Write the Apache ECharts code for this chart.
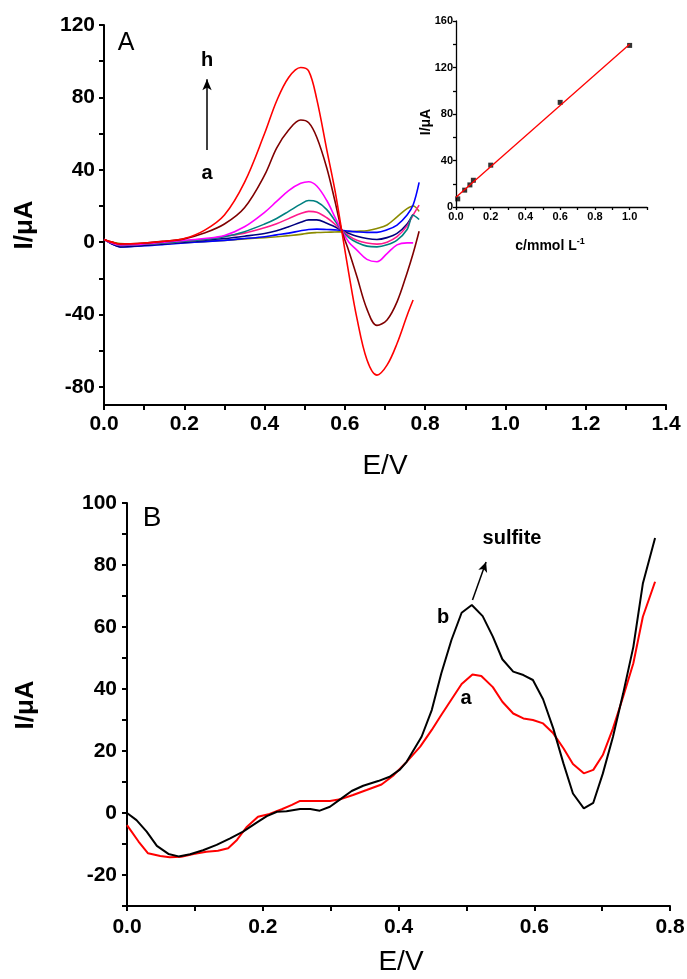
<!DOCTYPE html>
<html>
<head>
<meta charset="utf-8">
<script src="https://cdn.jsdelivr.net/npm/echarts@6/dist/echarts.min.js"></script>
<style>
html,body{margin:0;padding:0;background:#fff;}
#main{width:687px;height:979px;}
</style>
</head>
<body>
<div id="main"></div>
<script>
// ---- panel A : CVs a..h, one potential grid shared by all curves
var potA = [0, 0.02, 0.04, 0.1, 0.15, 0.2, 0.25, 0.3, 0.35, 0.4, 0.43, 0.46, 0.49, 0.51, 0.53, 0.555, 0.575, 0.592, 0.61, 0.63, 0.655, 0.68, 0.705, 0.73, 0.755, 0.77, 0.785];
var curA_a = [1.5, 0, -0.8, -1, -0.8, -0.3, 0.3, 1, 1.8, 2.5, 3, 3.6, 4.3, 5, 5.3, 5.5, 5.6, 5.7, 5.8, 6, 6.3, 7.5, 9.5, 14, 18.5, 20, 17];
var curA_b = [1.5, -1, -2.6, -2, -1.3, -0.5, 0.3, 1, 2, 3, 4, 5, 6.3, 7, 7.2, 7, 6.8, 6.6, 6.1, 5.7, 5.4, 5.4, 6.8, 9.4, 15, 20.5, 33];
var curA_c = [1.5, -1, -2.6, -1.8, -1, 0, 1, 2, 3.3, 4.8, 6.3, 8.5, 11, 12.3, 12.3, 10.5, 8.5, 6.6, 4.8, 3.2, 2, 1.5, 2.5, 4.8, 10, 15.5, null];
var curA_d = [1.5, -0.5, -1.8, -1.2, -0.5, 0.5, 1.5, 3.2, 5, 8, 10.2, 13, 15.8, 17, 16.5, 13.5, 10, 6.6, 3.5, 1, -0.5, -1.1, 0, 3, 9, 15, 20.5];
var curA_e = [1.5, -0.5, -1.8, -1.2, -0.5, 0.5, 1.5, 3, 5.8, 10, 13.1, 17, 21, 23, 22.3, 18, 12, 6.6, 2.5, -0.2, -2.2, -2.6, -1.5, 1.1, 7, 14.9, 12.5];
var curA_f = [1.5, -0.5, -1.5, -1, 0, 1, 2, 3.7, 8.5, 16.5, 22.5, 28.5, 32.5, 33.4, 31, 23, 14, 6.6, 0, -4.4, -9.5, -10.8, -6.3, -1.5, -0.4, -0.4, null];
var curA_g = [1.5, 0, -1, -0.5, 0.5, 1.8, 5, 10, 19, 37, 52, 62, 67.5, 66, 58, 41, 23, 6.6, -5, -19, -37, -46, -43, -33, -17, -6.3, 6];
var curA_h = [1.5, 0, -1, -0.5, 0.5, 2, 6.5, 15, 33, 60, 78, 91, 96.5, 94.5, 79, 51, 29, 6.6, -17.5, -42, -65, -73.5, -68, -56, -40.5, -32, null];
var namesA = ['a', 'b', 'c', 'd', 'e', 'f', 'g', 'h'];
var colorsA = ['#8b8b00', '#0000ff', '#000080', '#ff1a8c', '#008080', '#ff00ff', '#800000', '#ff0000'];

// ---- inset : calibration
var concIn = [0.01, 0.05, 0.08, 0.1, 0.2, 0.6, 1.0];
var curIn = [7, 14.5, 19, 23, 36, 90, 139];
var fitC = [0, 1.0];
var fitI = [8.3, 140];

// ---- panel B : a (red) and b (black, with sulfite)
var potBb = [0, 0.014, 0.029, 0.044, 0.061, 0.076, 0.093, 0.112, 0.132, 0.152, 0.171, 0.191, 0.206, 0.221, 0.235, 0.255, 0.27, 0.284, 0.299, 0.314, 0.331, 0.348, 0.37, 0.387, 0.402, 0.412, 0.434, 0.449, 0.463, 0.478, 0.493, 0.508, 0.524, 0.539, 0.553, 0.569, 0.584, 0.598, 0.613, 0.628, 0.643, 0.657, 0.673, 0.687, 0.701, 0.716, 0.731, 0.746, 0.76, 0.778];
var curBb = [0, -2.3, -6, -10.6, -13.2, -14, -13.3, -12, -10.3, -8.2, -6, -3.1, -1, 0.4, 0.6, 1.3, 1.3, 0.75, 2, 4.4, 7.1, 8.8, 10.3, 11.7, 14, 16.5, 24.6, 33.2, 45, 55.8, 64.6, 67.1, 63.5, 56.9, 49.6, 45.6, 44.5, 42.9, 36.7, 27.3, 16, 6.3, 1.5, 3.3, 12.7, 24.6, 38.6, 53.6, 74, 88.7];
var potBa = [0, 0.017, 0.031, 0.049, 0.063, 0.08, 0.098, 0.117, 0.134, 0.149, 0.162, 0.176, 0.193, 0.21, 0.228, 0.243, 0.255, 0.274, 0.299, 0.314, 0.333, 0.353, 0.375, 0.392, 0.412, 0.432, 0.449, 0.463, 0.478, 0.493, 0.509, 0.522, 0.539, 0.553, 0.569, 0.584, 0.598, 0.613, 0.628, 0.643, 0.657, 0.673, 0.687, 0.701, 0.716, 0.731, 0.746, 0.76, 0.778];
var curBa = [-3.9, -9.2, -13, -13.9, -14.3, -14.1, -13.2, -12.5, -12.2, -11.4, -8.7, -4.6, -1.2, -0.3, 1.2, 2.6, 3.9, 3.9, 3.9, 4.4, 5.8, 7.4, 9.2, 12, 16.5, 21.4, 26.8, 31.6, 36.6, 41.6, 44.7, 44.2, 40.6, 35.9, 32.1, 30.5, 30, 28.9, 25.7, 20.9, 15.8, 12.8, 13.9, 18.7, 27.3, 37.5, 48.3, 63.3, 74.6];

// tick / label positions
var xLabA = [0, 0.2, 0.4, 0.6, 0.8, 1.0, 1.2, 1.4];
var xTickA = [0, 0.1, 0.2, 0.3, 0.4, 0.5, 0.6, 0.7, 0.8, 0.9, 1.0, 1.1, 1.2, 1.3, 1.4];
var yLabA = [-80, -40, 0, 40, 80, 120];
var yTickA = [-80, -60, -40, -20, 0, 20, 40, 60, 80, 100, 120];
var xLabIn = [0, 0.2, 0.4, 0.6, 0.8, 1.0];
var xTickIn = [0, 0.1, 0.2, 0.3, 0.4, 0.5, 0.6, 0.7, 0.8, 0.9, 1.0, 1.1];
var yLabIn = [0, 40, 80, 120, 160];
var yTickIn = [0, 20, 40, 60, 80, 100, 120, 140, 160];
var xLabB = [0, 0.2, 0.4, 0.6, 0.8];
var xTickB = [0, 0.1, 0.2, 0.3, 0.4, 0.5, 0.6, 0.7, 0.8];
var yLabB = [-20, 0, 20, 40, 60, 80, 100];
var yTickB = [-30, -20, -10, 0, 10, 20, 30, 40, 50, 60, 70, 80, 90, 100];

var FONT = 'Liberation Sans, Arial, sans-serif';

function zip(xs, ys) {
    var out = [];
    for (var i = 0; i < xs.length; i++) {
        if (ys[i] !== null) out.push([xs[i], ys[i]]);
    }
    return out;
}

function mkAxis(grid, min, max, labels, ticks, size, margin, tickLen, lw, fmt) {
    return {
        type: 'value', gridIndex: grid, min: min, max: max,
        axisLine: {show: true, onZero: false, lineStyle: {color: '#000', width: lw}},
        axisTick: {show: true, inside: false, length: tickLen, customValues: ticks,
            lineStyle: {color: '#000', width: lw}},
        axisLabel: {show: true, margin: margin, color: '#000', fontSize: size, fontWeight: 'bold',
            fontFamily: FONT, customValues: labels, formatter: fmt},
        splitLine: {show: false}
    };
}
var f1 = function (v) { return v.toFixed(1); };
var f0 = function (v) { return String(Math.round(v)); };

var chart = echarts.init(document.getElementById('main'), null, {renderer: 'canvas'});

var series = [];
for (var k = 0; k < namesA.length; k++) {
    var vals = [curA_a, curA_b, curA_c, curA_d, curA_e, curA_f, curA_g, curA_h][k];
    series.push({
        name: namesA[k], type: 'line', xAxisIndex: 0, yAxisIndex: 0,
        data: zip(potA, vals), showSymbol: false, smooth: 0.35,
        lineStyle: {color: colorsA[k], width: 1.6}, itemStyle: {color: colorsA[k]},
        animation: false
    });
}
// arrow a -> h
series[0].markLine = {
    silent: true, symbol: ['none', 'arrow'], symbolSize: [7, 11], label: {show: false},
    lineStyle: {color: '#000', width: 1.5, type: 'solid'},
    data: [[{coord: [0.2566, 50.9]}, {coord: [0.2566, 90]}]]
};

series.push({
    type: 'line', xAxisIndex: 1, yAxisIndex: 1, data: zip(fitC, fitI), showSymbol: false,
    lineStyle: {color: '#ff0000', width: 1.3}, animation: false
});
series.push({
    type: 'scatter', xAxisIndex: 1, yAxisIndex: 1, data: zip(concIn, curIn),
    symbol: 'rect', symbolSize: 5, itemStyle: {color: '#000'}, animation: false
});

series.push({
    name: 'a', type: 'line', xAxisIndex: 2, yAxisIndex: 2, data: zip(potBa, curBa), showSymbol: false,
    lineStyle: {color: '#ff0000', width: 2}, animation: false
});
series.push({
    name: 'b', type: 'line', xAxisIndex: 2, yAxisIndex: 2, data: zip(potBb, curBb), showSymbol: false,
    lineStyle: {color: '#000', width: 2}, animation: false,
    markLine: {
        silent: true, symbol: ['none', 'arrow'], symbolSize: [7, 10], label: {show: false},
        lineStyle: {color: '#000', width: 1.5, type: 'solid'},
        data: [[{coord: [0.509, 68.7]}, {coord: [0.529, 81]}]]
    }
});

function txt(x, y, s, font, rot) {
    return {
        type: 'text', x: x, y: y, rotation: rot || 0, z: 100,
        style: {text: s, font: font, fill: '#000', align: 'center', verticalAlign: 'middle'}
    };
}

var option = {
    backgroundColor: '#fff',
    animation: false,
    grid: [
        {left: 104, top: 25, width: 562, height: 380, outerBoundsMode: 'none'},
        {left: 456, top: 21, width: 191, height: 186, outerBoundsMode: 'none'},
        {left: 127, top: 503, width: 543, height: 403, outerBoundsMode: 'none'}
    ],
    xAxis: [
        mkAxis(0, 0, 1.4, xLabA, xTickA, 21, 9, 5, 2, f1),
        mkAxis(1, 0, 1.1, xLabIn, xTickIn, 11, 4, 3, 1.3, f1),
        mkAxis(2, 0, 0.8, xLabB, xTickB, 21, 11, 5, 2, f1)
    ],
    yAxis: [
        mkAxis(0, -90, 120, yLabA, yTickA, 21, 9, 5, 2, f0),
        mkAxis(1, 0, 160, yLabIn, yTickIn, 11, 3, 3, 1.3, f0),
        mkAxis(2, -30, 100, yLabB, yTickB, 21, 10, 5, 2, f0)
    ],
    series: series,
    graphic: [
        txt(126, 43, 'A', '25px ' + FONT),
        txt(207, 60, 'h', 'bold 20px ' + FONT),
        txt(207, 173, 'a', 'bold 20px ' + FONT),
        txt(25, 225, 'I/\u03bcA', 'bold 26px ' + FONT, Math.PI / 2),
        txt(385, 466, 'E/V', '28px ' + FONT),
        txt(426, 122, 'I/\u03bcA', 'bold 14px ' + FONT, Math.PI / 2),
        {
            type: 'text', x: 550, y: 246, z: 100,
            style: {
                text: '{n|c/mmol L}{s|-1}', align: 'center', verticalAlign: 'middle', fill: '#000',
                rich: {
                    n: {font: 'bold 14px ' + FONT, fill: '#000'},
                    s: {font: 'bold 9px ' + FONT, fill: '#000', verticalAlign: 'top', padding: [0, 0, 8, 0]}
                }
            }
        },
        txt(152, 518, 'B', '28px ' + FONT),
        txt(512, 538, 'sulfite', 'bold 20px ' + FONT),
        txt(443, 617, 'b', 'bold 20px ' + FONT),
        txt(466, 698, 'a', 'bold 20px ' + FONT),
        txt(26, 705, 'I/\u03bcA', 'bold 26px ' + FONT, Math.PI / 2),
        txt(401, 962, 'E/V', '28px ' + FONT)
    ]
};
chart.setOption(option);
</script>
</body>
</html>
